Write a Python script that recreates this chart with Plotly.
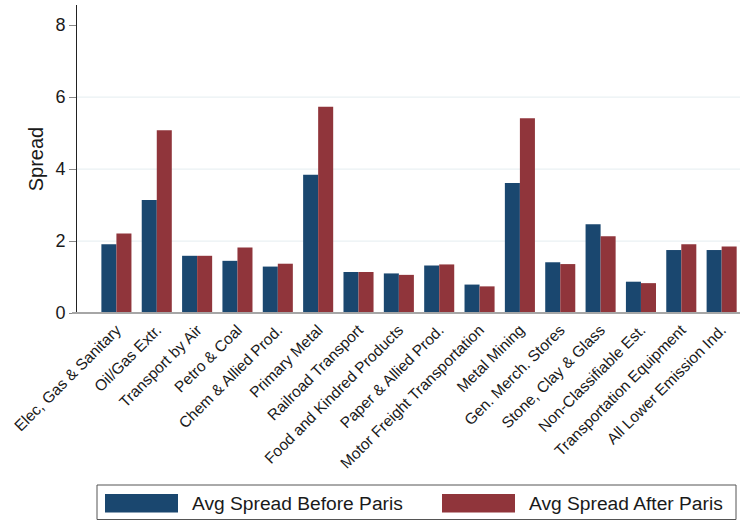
import plotly.graph_objects as go

categories = [
    "Elec, Gas & Sanitary", "Oil/Gas Extr.", "Transport by Air", "Petro & Coal",
    "Chem & Allied Prod.", "Primary Metal", "Railroad Transport", "Food and Kindred Products",
    "Paper & Allied Prod.", "Motor Freight Transportation", "Metal Mining", "Gen. Merch. Stores",
    "Stone, Clay & Glass", "Non-Classifiable Est.", "Transportation Equipment", "All Lower Emission Ind.",
]
before_paris = [1.91, 3.14, 1.59, 1.45, 1.29, 3.84, 1.14, 1.10, 1.32, 0.79, 3.61, 1.41, 2.47, 0.87, 1.75, 1.75]
after_paris = [2.21, 5.08, 1.59, 1.82, 1.37, 5.73, 1.14, 1.06, 1.35, 0.74, 5.41, 1.36, 2.13, 0.83, 1.91, 1.85]
series_names = ["Avg Spread Before Paris", "Avg Spread After Paris"]
colors = ["#1a476f", "#90353b"]
y_ticks = [0, 2, 4, 6, 8]

W, H = 743, 521
L, R, T, B = 77, 3, 5, 208
PW, PH = W - L - R, H - T - B

def px_x(p):
    return (p - L) / PW

def px_y(p):
    return (H - B - p) / PH

fig = go.Figure()
for name, vals, col in zip(series_names, [before_paris, after_paris], colors):
    fig.add_trace(go.Bar(x=categories, y=vals, name=name, marker=dict(color=col, line=dict(width=0)),
                         showlegend=False))

shapes = []
for v in [2, 4, 6]:
    shapes.append(dict(type="line", xref="paper", yref="y", x0=0, x1=1, y0=v, y1=v,
                       line=dict(color="#eaf1f3", width=1.2), layer="below"))
shapes.append(dict(type="line", xref="paper", yref="paper", x0=px_x(72), x1=1, y0=0, y1=0,
                   line=dict(color="#a6a6a6", width=2.2), layer="above"))
shapes.append(dict(type="rect", xref="paper", yref="paper", x0=px_x(97), x1=px_x(736),
                   y0=px_y(519.5), y1=px_y(485), line=dict(color="#555555", width=1),
                   fillcolor="rgba(0,0,0,0)"))
sw = [(105, 178), (442, 515)]
tx = [190, 527]
annotations = []
for (a, b), t, name, col in zip(sw, tx, series_names, colors):
    shapes.append(dict(type="rect", xref="paper", yref="paper", x0=px_x(a), x1=px_x(b),
                       y0=px_y(512.5), y1=px_y(494), line=dict(width=0), fillcolor=col))
    annotations.append(dict(text=name, xref="paper", yref="paper", x=px_x(t), y=px_y(503.5),
                            xanchor="left", yanchor="middle", showarrow=False,
                            font=dict(size=19.2, color="#1a1a1a", family="Arial, Liberation Sans")))

fig.update_layout(
    width=W, height=H,
    margin=dict(l=L, r=R, t=T, b=B, autoexpand=False),
    plot_bgcolor="white", paper_bgcolor="white",
    barmode="group", bargap=0.255, bargroupgap=0,
    font=dict(family="Arial, Liberation Sans", color="#1a1a1a"),
    shapes=shapes, annotations=annotations,
    xaxis=dict(type="category", range=[-0.977, 15.455], showgrid=False, showline=False,
               ticks="", tickangle=-45, tickfont=dict(size=15.5), zeroline=False,
               ticklabelstandoff=4),
    yaxis=dict(range=[0, 8.56], tickvals=y_ticks, showgrid=False, zeroline=False,
               showline=True, linecolor="#222222", linewidth=1,
               ticks="outside", ticklen=7, tickcolor="#888888", tickwidth=1,
               tickfont=dict(size=18),
               title=dict(text="Spread", font=dict(size=20), standoff=6)),
)

fig.write_html("out.html", config={"displayModeBar": False},
               post_script="document.body.style.margin='0';document.body.style.overflow='hidden';")
